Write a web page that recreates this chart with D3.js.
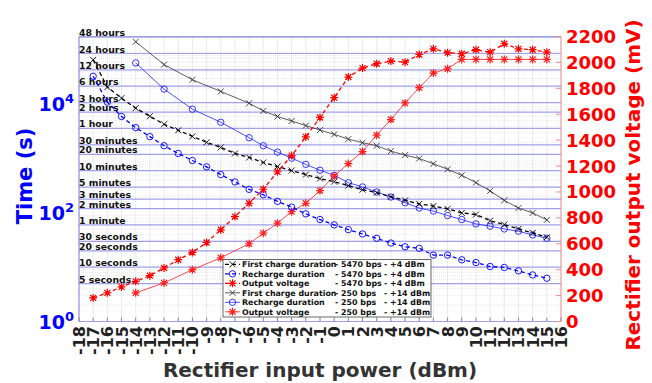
<html>
<script src='https://d3js.org/d3.v7.min.js'></script>
<style>
body {margin:0; background:white;}
text {font-family: 'DejaVu Sans', sans-serif; font-weight: bold;}
</style>
<body>
<svg width=652 height=383></svg>
<script>
// input power (dBm)
var power5470 = [-17,-16,-15,-14,-13,-12,-11,-10,-9,-8,-7,-6,-5,-4,-3,-2,-1,0,1,2,3,4,5,6,7,8,9,10,11,12,13,14,15];
var power250 = [-14,-12,-10,-8,-6,-5,-4,-3,-2,-1,0,1,2,3,4,5,6,7,8,9,10,11,12,13,14,15];
// times in seconds, voltages in mV
var firstCharge5470 = [65900,20800,13000,8500,6040,4300,3330,2570,2000,1610,1245,1050,849,716,603,508,429,377,318,268,236,199,170,147,134,119,100,93.5,72,61,50.7,42.8,35.6];
var recharge5470 = [32900,10990,5970,3730,2540,1730,1246,924,706,508,372,272,216,163,128,96,75.5,60.2,49.2,41,34.1,27.9,23.8,22.3,16.7,16.7,13.7,12.2,10.3,9.9,8.56,7.21,6.27];
var voltage5470 = [182,221,267,310,354,413,477,533,610,708,810,913,1021,1156,1281,1425,1575,1728,1887,1956,1990,2010,2002,2061,2105,2075,2067,2098,2079,2144,2105,2098,2079];
var firstCharge250 = [142000,54000,28400,17300,10500,7570,5970,4945,4060,3370,2800,2290,1970,1730,1375,1160,1006,803,637,493,361,254,170,123,100,74.5];
var recharge250 = [58000,19100,8150,4680,2430,1730,1318,1020,785,611,493,361,301,243,196,154,123,108,89.5,75.5,62.8,56.9,50.7,46,39.3,34.1];
var voltage250 = [221,298,400,492,600,682,759,848,913,1010,1123,1219,1312,1438,1559,1687,1805,1918,1951,2023,2023,2023,2023,2023,2023,2023];

var timeLabels = ['48 hours','24 hours','12 hours','6 hours','3 hours','2 hours','1 hour','30 minutes','20 minutes','10 minutes','5 minutes','3 minutes','2 minutes','1 minute','30 seconds','20 seconds','10 seconds','5 seconds'];
var timeValues = [172800,86400,43200,21600,10800,7200,3600,1800,1200,600,300,180,120,60,30,20,10,5];
var xTicks = d3.range(-18, 17);
var voltTicks = [0,200,400,600,800,1000,1200,1400,1600,1800,2000,2200];

var svg = d3.select('svg');
var pLeft = 79, pRight = 561, pTop = 36.5, pBottom = 321.5;

var x = d3.scaleLinear().domain([-18, 16]).range([pLeft, pRight]);
var y = d3.scaleLog().domain([1, Math.pow(10, 5.25)]).range([pBottom, pTop]);
var yr = d3.scaleLinear().domain([0, 2200]).range([pBottom, pTop]);

var grid = svg.append('g');
// minor log grid
var minor = [];
for (var e = 0; e < 6; e++) for (var m = 2; m < 10; m++) {
  var v = m * Math.pow(10, e);
  if (v < y.domain()[1]) minor.push(v);
}
grid.selectAll('.mh').data(minor).enter().append('line')
  .attr('x1', pLeft).attr('x2', pRight)
  .attr('y1', d => y(d)).attr('y2', d => y(d))
  .attr('stroke', '#e2e2e2').attr('stroke-width', 0.8).attr('stroke-dasharray', '1,1');
grid.selectAll('.vg').data(xTicks).enter().append('line')
  .attr('x1', d => x(d)).attr('x2', d => x(d))
  .attr('y1', pTop).attr('y2', pBottom)
  .attr('stroke', '#e4e4e4').attr('stroke-width', 0.8);
// labelled time lines
grid.selectAll('.tl').data(timeValues).enter().append('line')
  .attr('x1', pLeft).attr('x2', pRight)
  .attr('y1', d => y(d)).attr('y2', d => y(d))
  .attr('stroke', '#a0a0e8').attr('stroke-width', 1.2);

// frame
svg.append('line').attr('x1', pLeft).attr('x2', pRight).attr('y1', pTop).attr('y2', pTop).attr('stroke', '#a0a0e8');
svg.append('line').attr('x1', pLeft).attr('x2', pRight).attr('y1', pBottom).attr('y2', pBottom).attr('stroke', '#a0a0e8');
svg.append('line').attr('x1', pLeft).attr('x2', pLeft).attr('y1', pTop).attr('y2', pBottom).attr('stroke', '#8080f0');
svg.append('line').attr('x1', pRight).attr('x2', pRight).attr('y1', pTop).attr('y2', pBottom).attr('stroke', '#f09090');

// bottom ticks
svg.selectAll('.bt').data(xTicks).enter().append('line')
  .attr('x1', d => x(d)).attr('x2', d => x(d))
  .attr('y1', pBottom).attr('y2', pBottom - 4)
  .attr('stroke', '#888');
// right ticks
svg.selectAll('.rt').data(voltTicks).enter().append('line')
  .attr('x1', pRight).attr('x2', pRight - 5)
  .attr('y1', d => yr(d)).attr('y2', d => yr(d))
  .attr('stroke', '#f09090');

// time labels
svg.selectAll('.tlab').data(timeValues).enter().append('text')
  .attr('x', pLeft).attr('y', d => y(d) - 1)
  .attr('font-size', 9.3).attr('fill', '#111')
  .text((d, i) => timeLabels[i]);

// series
function drawSeries(px, py, scale, color, width, dash, marker) {
  var pts = px.map((p, i) => [x(p), scale(py[i])]);
  svg.append('path').attr('d', d3.line()(pts))
    .attr('fill', 'none').attr('stroke', color).attr('stroke-width', width)
    .attr('stroke-dasharray', dash);
  pts.forEach(p => drawMarker(p[0], p[1], color, marker));
}
function drawMarker(cx, cy, color, marker) {
  var g = svg.append('g').attr('transform', 'translate(' + cx + ',' + cy + ')')
    .attr('stroke', color).attr('fill', 'none').attr('stroke-width', 0.9);
  var s = 3;
  if (marker == 'x') {
    g.append('path').attr('d', 'M-' + s + ',-' + s + 'L' + s + ',' + s + 'M-' + s + ',' + s + 'L' + s + ',-' + s);
  } else if (marker == 'o') {
    g.append('circle').attr('r', 3.2);
  } else {
    g.append('path').attr('d', 'M-' + s + ',-' + s + 'L' + s + ',' + s + 'M-' + s + ',' + s + 'L' + s + ',-' + s + 'M0,-4L0,4M-4,0L4,0')
      .attr('stroke-width', 1.2);
  }
}

drawSeries(power250, firstCharge250, y, '#333', 0.8, null, 'x');
drawSeries(power250, recharge250, y, '#2020ff', 0.8, null, 'o');
drawSeries(power250, voltage250, yr, '#ff2020', 0.8, null, '*');
drawSeries(power5470, firstCharge5470, y, '#000', 1.3, '4,3', 'x');
drawSeries(power5470, recharge5470, y, '#0000ff', 1.3, '4,3', 'o');
drawSeries(power5470, voltage5470, yr, '#ff0000', 1.3, '4,3', '*');

// legend
var legNames = ['First charge duration','Recharge duration','Output voltage','First charge duration','Recharge duration','Output voltage'];
var legRates = ['- 5470 bps','- 5470 bps','- 5470 bps','- 250 bps','- 250 bps','- 250 bps'];
var legPowers = ['- +4 dBm','- +4 dBm','- +4 dBm','- +14 dBm','- +14 dBm','- +14 dBm'];
var legColors = ['#000','#0000ff','#ff0000','#333','#2020ff','#ff2020'];
var legMarkers = ['x','o','*','x','o','*'];
var legDash = ['4,3','4,3','4,3',null,null,null];
var legW = [1.3,1.3,1.3,0.8,0.8,0.8];
svg.append('rect').attr('x', 223).attr('y', 259.5).attr('width', 208).attr('height', 57.5)
  .attr('fill', 'white').attr('stroke', '#444').attr('stroke-width', 0.8);
legNames.forEach(function(n, i) {
  var ly = 264.3 + i * 9.5;
  svg.append('line').attr('x1', 225).attr('x2', 240).attr('y1', ly).attr('y2', ly)
    .attr('stroke', legColors[i]).attr('stroke-width', legW[i]).attr('stroke-dasharray', legDash[i]);
  drawMarker(232.5, ly, legColors[i], legMarkers[i]);
  svg.append('text').attr('x', 242).attr('y', ly + 3).attr('font-size', 7.9).attr('fill', '#111').text(n);
  svg.append('text').attr('x', 335).attr('y', ly + 3).attr('font-size', 7.9).attr('fill', '#111').text(legRates[i]);
  svg.append('text').attr('x', 384).attr('y', ly + 3).attr('font-size', 7.9).attr('fill', '#111').text(legPowers[i]);
});

// left axis labels
[0, 2, 4].forEach(function(p) {
  var t = svg.append('text').attr('x', 74).attr('y', y(Math.pow(10, p)) + 7)
    .attr('text-anchor', 'end').attr('fill', 'blue').attr('font-size', 19);
  t.append('tspan').text('10');
  t.append('tspan').attr('dy', -8).attr('font-size', 13).text(p);
});
svg.append('text').attr('transform', 'translate(32,176) rotate(-90)')
  .attr('text-anchor', 'middle').attr('fill', 'blue').attr('font-size', 21).text('Time (s)');

// right axis labels
svg.selectAll('.rl').data(voltTicks).enter().append('text')
  .attr('x', 566).attr('y', d => yr(d) + 6.5)
  .attr('fill', 'red').attr('font-size', 18).text(d => d);
svg.append('text').attr('transform', 'translate(640,185) rotate(-90)')
  .attr('text-anchor', 'middle').attr('fill', 'red').attr('font-size', 20).text('Rectifier output voltage (mV)');

// x tick labels, rotated
svg.selectAll('.xl').data(xTicks).enter().append('text')
  .attr('transform', d => 'translate(' + (x(d) + 6) + ',' + 326 + ') rotate(-90)')
  .attr('text-anchor', 'end').attr('fill', '#222').attr('font-size', 16).text(d => d);
svg.append('text').attr('x', 320).attr('y', 377).attr('text-anchor', 'middle')
  .attr('fill', '#333').attr('font-size', 20).text('Rectifier input power (dBm)');
</script>
</body>
</html>
